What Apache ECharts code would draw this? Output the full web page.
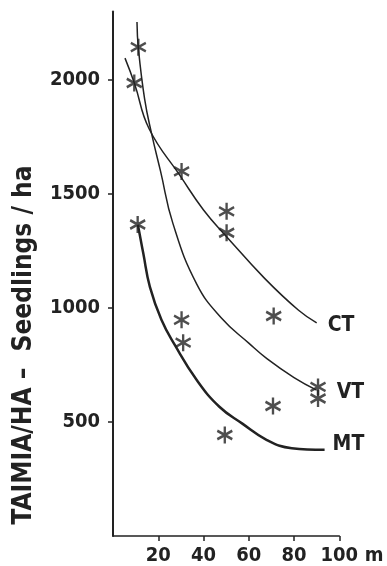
<!DOCTYPE html>
<html>
<head>
<meta charset="utf-8">
<script src="https://cdn.jsdelivr.net/npm/echarts@6/dist/echarts.min.js"></script>
<style>
  html, body { margin: 0; padding: 0; background: #fff; }
  #chart { width: 387px; height: 566px; }
</style>
</head>
<body>
<div id="chart"></div>
<script>
  // distance (m) / seedlings per ha
  var ctCurve = [[5.3, 2096], [9.5, 1985], [16, 1785], [30, 1575], [40, 1430], [50, 1315], [67, 1130], [82, 990], [90, 935]];
  var vtCurve = [[10.6, 2254], [11.2, 2140], [14, 1915], [17, 1767], [21, 1600], [26.5, 1370], [37, 1105], [48, 955], [60, 846], [68, 778], [80, 695], [90, 640]];
  var mtCurve = [[11, 1365], [13.4, 1239], [16.3, 1093], [21.4, 948], [27.3, 838], [37, 684], [47, 567], [57, 494], [68, 421], [79, 385], [93.5, 378]];
  // observed plots (asterisks)
  var obsPoints = [[11.2, 2144], [9.4, 1987], [10.9, 1366], [30.3, 1599], [50.2, 1424], [50.2, 1330], [30.3, 948], [31, 848],
    [71, 965], [90.6, 654], [90.6, 603], [70.7, 570], [49.4, 443]];
  var xTicks = [20, 40, 60, 80, 100];
  var yTicks = [500, 1000, 1500, 2000];

  var ink = "#222";
  var font = "'DejaVu Sans Condensed', 'DejaVu Sans', sans-serif";
  var star = "path://M0,-10L0,10M-8.7,-5L8.7,5M-8.7,5L8.7,-5";

  var chart = echarts.init(document.getElementById("chart"));

  function curve(name, data, width, off) {
    return {
      name: name,
      type: "line",
      data: data,
      smooth: 0.45,
      showSymbol: false,
      lineStyle: { color: ink, width: width },
      endLabel: {
        show: true,
        formatter: name,
        offset: off,
        fontFamily: font,
        fontWeight: "bold",
        fontSize: 21,
        color: ink
      },
      silent: true,
      z: 2
    };
  }

  var option = {
    backgroundColor: "#fff",
    animation: false,
    grid: { left: 113, right: 47.7, top: 11.6, bottom: 30 },
    xAxis: {
      type: "value",
      min: 0,
      max: 100,
      interval: 20,
      splitLine: { show: false },
      axisLine: { lineStyle: { color: ink, width: 1.5 } },
      axisTick: { customValues: xTicks, length: 5, lineStyle: { color: ink, width: 1.5 } },
      axisLabel: {
        customValues: xTicks,
        margin: 10,
        fontFamily: font,
        fontWeight: "bold",
        fontSize: 20,
        color: ink
      }
    },
    yAxis: {
      type: "value",
      min: 0,
      max: 2300,
      interval: 500,
      splitLine: { show: false },
      axisLine: { show: true, lineStyle: { color: ink, width: 2 } },
      axisTick: { show: true, customValues: yTicks, length: 5, lineStyle: { color: ink, width: 1.5 } },
      axisLabel: {
        customValues: yTicks,
        margin: 13,
        formatter: function (v) { return String(v); },
        fontFamily: font,
        fontWeight: "bold",
        fontSize: 20,
        color: ink
      }
    },
    graphic: [
      {
        type: "text",
        x: 24,
        y: 345,
        rotation: Math.PI / 2,
        style: {
          text: "TAIMIA/HA \u2013  Seedlings / ha",
          fontFamily: font,
          fontWeight: "bold",
          fontSize: 26,
          fill: ink,
          align: "center",
          verticalAlign: "middle"
        }
      },
      {
        type: "text",
        x: 374,
        y: 556,
        style: {
          text: "m",
          fontFamily: font,
          fontWeight: "bold",
          fontSize: 20,
          fill: ink,
          align: "center",
          verticalAlign: "middle"
        }
      }
    ],
    series: [
      curve("CT", ctCurve, 1.5, [3, 3]),
      curve("VT", vtCurve, 1.5, [12, 2]),
      curve("MT", mtCurve, 2.5, [0, -5]),
      {
        name: "obs",
        type: "scatter",
        data: obsPoints,
        symbol: star,
        symbolSize: [15, 17],
        itemStyle: { color: "transparent", borderColor: ink, borderWidth: 2.5 },
        silent: true,
        z: 3
      }
    ]
  };

  chart.setOption(option);
  window.addEventListener("resize", function () {
    chart.resize();
  });
</script>
</body>
</html>
